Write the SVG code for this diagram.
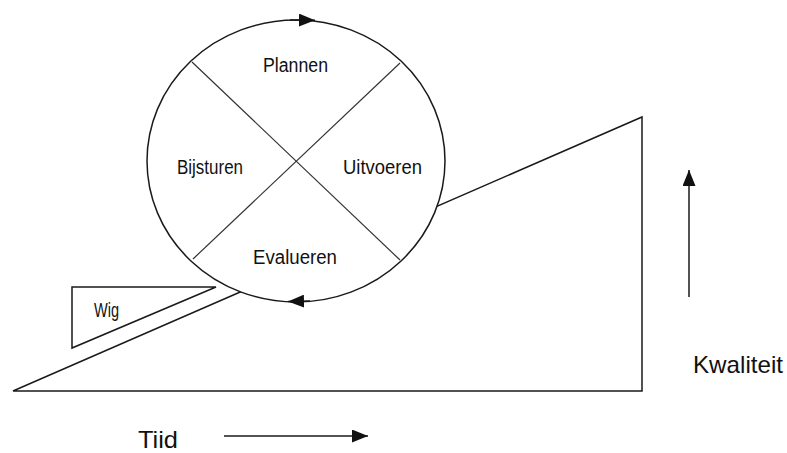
<svg xmlns="http://www.w3.org/2000/svg" width="787" height="453" viewBox="0 0 787 453">
<style>
.ln{fill:none;stroke:#1a1a1a;stroke-width:1.5}
.fl{fill:#fff;stroke:#1a1a1a;stroke-width:1.5}
.x{stroke:#333;stroke-width:1.2}
text{font-family:"Liberation Sans",Arial,sans-serif;fill:#111}
.s{font-size:20px}
.b{font-size:24px}
</style>
<defs>
<marker id="ah" viewBox="0 0 16 13" refX="16" refY="6.5" markerWidth="16" markerHeight="13" markerUnits="userSpaceOnUse" orient="auto">
<path d="M0,0 L16,6.5 L0,13 Z" fill="#111"/>
</marker>
</defs>
<rect width="787" height="453" fill="#fff"/>
<g id="ramp">
<polygon class="fl" points="13,391 642,117 642,391"/>
</g>
<g id="wig">
<polygon class="fl" points="72,287 216,287 72,348"/>
<text class="s" x="94" y="317" textLength="25" lengthAdjust="spacingAndGlyphs">Wig</text>
</g>
<g id="cycle">
<ellipse class="fl" cx="296" cy="161" rx="149" ry="141"/>
<line class="x" x1="192" y1="62" x2="400" y2="260"/>
<line class="x" x1="400" y1="63" x2="193" y2="259"/>
<text class="s" x="263" y="72" textLength="65" lengthAdjust="spacingAndGlyphs">Plannen</text>
<text class="s" x="177" y="174" textLength="66" lengthAdjust="spacingAndGlyphs">Bijsturen</text>
<text class="s" x="343" y="174" textLength="79" lengthAdjust="spacingAndGlyphs">Uitvoeren</text>
<text class="s" x="253" y="264" textLength="84" lengthAdjust="spacingAndGlyphs">Evalueren</text>
</g>
<g id="connectors">
<line class="ln" x1="290" y1="20" x2="315" y2="20.3" marker-end="url(#ah)"/>
<line class="ln" x1="310" y1="301" x2="288" y2="301.5" marker-end="url(#ah)"/>
<line class="ln" x1="224" y1="436" x2="368" y2="436" marker-end="url(#ah)"/>
<line class="ln" x1="689" y1="297" x2="689" y2="170" marker-end="url(#ah)"/>
</g>
<g id="labels">
<text class="b" x="138" y="448" textLength="40" lengthAdjust="spacingAndGlyphs">Tiid</text>
<text class="b" x="693" y="373" textLength="90" lengthAdjust="spacingAndGlyphs">Kwaliteit</text>
</g>
</svg>
